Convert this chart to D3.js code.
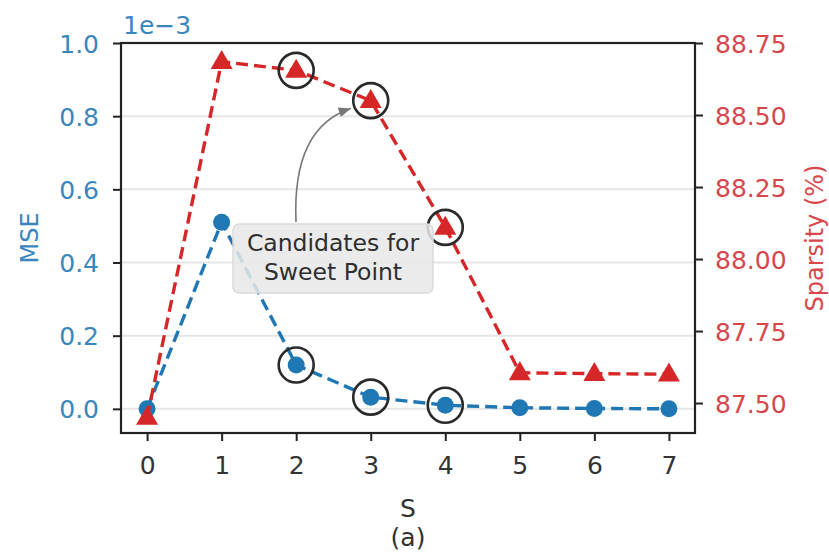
<!DOCTYPE html>
<html>
<head>
<meta charset="utf-8">
<script src="https://cdn.jsdelivr.net/npm/d3@7"></script>
<style>
  body { margin: 0; background: #fff; }
  text { font-family: "DejaVu Sans", sans-serif; }
</style>
</head>
<body>
<div id="chart"></div>
<script>
// values
var sValues = [0, 1, 2, 3, 4, 5, 6, 7];
var mseValues = [0.0, 0.51, 0.12, 0.032, 0.01, 0.003, 0.001, 0.0];      // x 1e-3
var sparsityValues = [87.45, 88.685, 88.655, 88.55, 88.11, 87.605, 87.602, 87.60];
var candidateS = [2, 3, 4];
var mseTicks = [0.0, 0.2, 0.4, 0.6, 0.8, 1.0];
var sparsityTicks = [87.50, 87.75, 88.00, 88.25, 88.50, 88.75];
var annotationLines = ["Candidates for", "Sweet Point"];

var width = 829, height = 552;
var margin = {top: 43, right: 134, bottom: 119, left: 121};
var blue = "#1f77b4", red = "#d62728";

var svg = d3.select("#chart").append("svg")
    .attr("width", width)
    .attr("height", height);

var x = d3.scaleLinear()
    .domain([-0.35, 7.35])
    .range([margin.left, width - margin.right]);

var yL = d3.scaleLinear()
    .domain([-0.066, 1.0])
    .range([height - margin.bottom, margin.top]);

var yR = d3.scaleLinear()
    .domain([87.396, 88.75])
    .range([height - margin.bottom, margin.top]);

// grid from left axis
svg.append("g")
    .selectAll("line")
    .data(mseTicks)
    .join("line")
    .attr("x1", margin.left).attr("x2", width - margin.right)
    .attr("y1", d => yL(d)).attr("y2", d => yL(d))
    .attr("stroke", "#e6e6e6")
    .attr("stroke-width", 2);

// axes
var xAxis = svg.append("g")
    .attr("transform", `translate(0,${height - margin.bottom})`)
    .call(d3.axisBottom(x).tickValues(sValues).tickFormat(d3.format("d"))
        .tickSize(8).tickPadding(15).tickSizeOuter(0));

var leftAxis = svg.append("g")
    .attr("transform", `translate(${margin.left},0)`)
    .call(d3.axisLeft(yL).tickValues(mseTicks).tickFormat(d3.format(".1f"))
        .tickSize(8).tickPadding(14).tickSizeOuter(0));

var rightAxis = svg.append("g")
    .attr("transform", `translate(${width - margin.right},0)`)
    .call(d3.axisRight(yR).tickValues(sparsityTicks).tickFormat(d3.format(".2f"))
        .tickSize(8).tickPadding(12).tickSizeOuter(0));

[xAxis, leftAxis, rightAxis].forEach(g => {
    g.select(".domain").remove();
    g.selectAll("line").attr("stroke", "#222").attr("stroke-width", 2);
    g.selectAll("text").attr("font-size", 25).attr("font-family", "DejaVu Sans");
});
xAxis.selectAll("text").attr("fill", "#333");
leftAxis.selectAll("text").attr("fill", "#3a86bd").attr("dy", "0.36em");
rightAxis.selectAll("text").attr("fill", "#d8474b").attr("dy", "0.36em");

// frame
svg.append("rect")
    .attr("x", margin.left).attr("y", margin.top)
    .attr("width", width - margin.right - margin.left)
    .attr("height", height - margin.bottom - margin.top)
    .attr("fill", "none")
    .attr("stroke", "#222")
    .attr("stroke-width", 2.2);

// axis labels
svg.append("text")
    .attr("x", 123).attr("y", 34)
    .attr("font-size", 25).attr("fill", "#3a86bd")
    .text("1e\u22123");

svg.append("text")
    .attr("transform", `translate(38,${(margin.top + height - margin.bottom) / 2}) rotate(-90)`)
    .attr("text-anchor", "middle")
    .attr("font-size", 24).attr("fill", "#3a86bd")
    .text("MSE");

svg.append("text")
    .attr("transform", `translate(823,${(margin.top + height - margin.bottom) / 2}) rotate(-90)`)
    .attr("text-anchor", "middle")
    .attr("font-size", 24).attr("fill", "#d8474b")
    .text("Sparsity (%)");

svg.append("text")
    .attr("x", (margin.left + width - margin.right) / 2).attr("y", 517)
    .attr("text-anchor", "middle")
    .attr("font-size", 25).attr("fill", "#333")
    .text("S");

svg.append("text")
    .attr("x", (margin.left + width - margin.right) / 2).attr("y", 546)
    .attr("text-anchor", "middle")
    .attr("font-size", 25).attr("fill", "#333")
    .text("(a)");

// MSE series
var mseLine = d3.line()
    .x((d, i) => x(sValues[i]))
    .y(d => yL(d));

svg.append("path")
    .attr("d", mseLine(mseValues))
    .attr("fill", "none")
    .attr("stroke", blue)
    .attr("stroke-width", 3.4)
    .attr("stroke-dasharray", "12,6");

svg.append("g")
    .selectAll("circle")
    .data(mseValues)
    .join("circle")
    .attr("cx", (d, i) => x(sValues[i]))
    .attr("cy", d => yL(d))
    .attr("r", 8.5)
    .attr("fill", blue);

// sparsity series
var spLine = d3.line()
    .x((d, i) => x(sValues[i]))
    .y(d => yR(d));

svg.append("path")
    .attr("d", spLine(sparsityValues))
    .attr("fill", "none")
    .attr("stroke", red)
    .attr("stroke-width", 3.4)
    .attr("stroke-dasharray", "12,6");

var tri = d3.symbol().type(d3.symbolTriangle).size(210);
svg.append("g")
    .selectAll("path")
    .data(sparsityValues)
    .join("path")
    .attr("transform", (d, i) => `translate(${x(sValues[i])},${yR(d) + 1})`)
    .attr("d", tri)
    .attr("fill", red);

// candidate rings
var ring = svg.append("g")
    .attr("fill", "none")
    .attr("stroke", "#2a2a2a")
    .attr("stroke-width", 2.6);

ring.selectAll(".ringR")
    .data(candidateS)
    .join("circle")
    .attr("class", "ringR")
    .attr("cx", d => x(d))
    .attr("cy", d => yR(sparsityValues[sValues.indexOf(d)]))
    .attr("r", 17.5);

ring.selectAll(".ringB")
    .data(candidateS)
    .join("circle")
    .attr("class", "ringB")
    .attr("cx", d => x(d))
    .attr("cy", d => yL(mseValues[sValues.indexOf(d)]))
    .attr("r", 17.5);

// annotation
var ann = svg.append("g");
ann.append("rect")
    .attr("x", 233).attr("y", 224)
    .attr("width", 200).attr("height", 69)
    .attr("rx", 6)
    .attr("fill", "#e8e8e8")
    .attr("fill-opacity", 0.85)
    .attr("stroke", "#dcdcdc")
    .attr("stroke-width", 1.5);

ann.selectAll("text")
    .data(annotationLines)
    .join("text")
    .attr("x", 333)
    .attr("y", (d, i) => 251 + i * 29)
    .attr("text-anchor", "middle")
    .attr("font-size", 23.5)
    .attr("fill", "#2e2e2e")
    .text(d => d);

var target = [x(3) - 20, yR(sparsityValues[3]) + 8];
var start = [296, 222];
var arrow = d3.path();
arrow.moveTo(start[0], start[1]);
arrow.quadraticCurveTo(292, 128, target[0], target[1]);
ann.append("path")
    .attr("d", arrow.toString())
    .attr("fill", "none")
    .attr("stroke", "#777")
    .attr("stroke-width", 1.6);

// arrow head along end tangent
var ang = Math.atan2(target[1] - 128, target[0] - 292);
var hl = 12, hw = 5;
var hx = target[0], hy = target[1];
ann.append("path")
    .attr("d", `M${hx},${hy}` +
        `L${hx - hl * Math.cos(ang) + hw * Math.sin(ang)},${hy - hl * Math.sin(ang) - hw * Math.cos(ang)}` +
        `L${hx - hl * Math.cos(ang) - hw * Math.sin(ang)},${hy - hl * Math.sin(ang) + hw * Math.cos(ang)}Z`)
    .attr("fill", "#777");
</script>
</body>
</html>
